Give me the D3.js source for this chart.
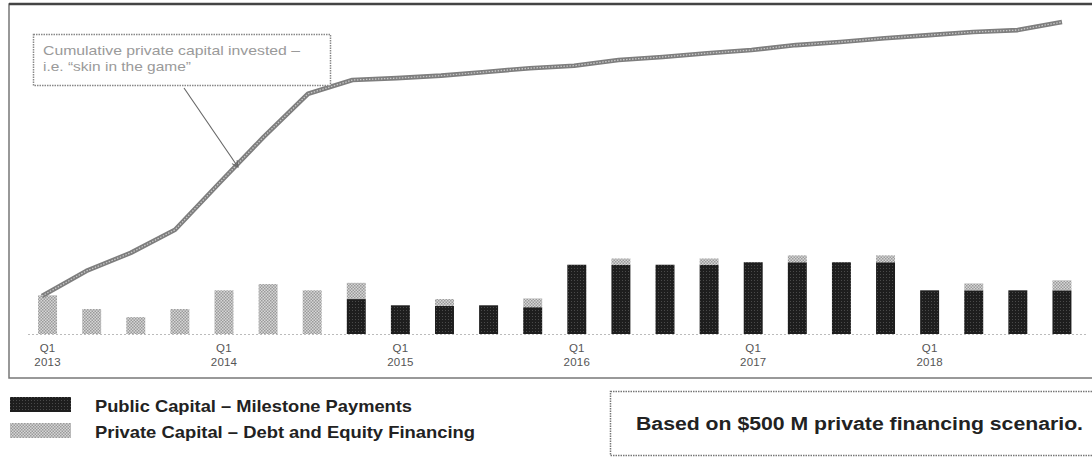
<!DOCTYPE html>
<html>
<head>
<meta charset="utf-8">
<script src="https://cdn.jsdelivr.net/npm/d3@7/dist/d3.min.js"></script>
<style>
  html, body { margin: 0; padding: 0; background: #fff; }
  svg { display: block; font-family: "Liberation Sans", Arial, sans-serif; }
</style>
</head>
<body>
<svg id="chart" width="1092" height="459"></svg>
<script>
// Quarterly capital flows, $ millions
const quarters = [
  "Q1 2013","Q2 2013","Q3 2013","Q4 2013",
  "Q1 2014","Q2 2014","Q3 2014","Q4 2014",
  "Q1 2015","Q2 2015","Q3 2015","Q4 2015",
  "Q1 2016","Q2 2016","Q3 2016","Q4 2016",
  "Q1 2017","Q2 2017","Q3 2017","Q4 2017",
  "Q1 2018","Q2 2018","Q3 2018","Q4 2018"
];
const publicCapital = [
  0, 0, 0, 0,
  0, 0, 0, 56,
  46, 45, 46, 43,
  111, 111, 111, 111,
  115, 115, 115, 115,
  70, 70, 70, 70
];
const privateCapital = [
  62, 40, 27, 40,
  70, 80, 70, 26,
  0, 11, 0, 14,
  0, 10, 0, 10,
  0, 11, 0, 11,
  0, 11, 0, 16
];
const cumulativePrivate = [
  61, 101, 130, 167,
  242, 316, 385, 407,
  410, 414, 420, 426,
  430, 439, 444, 450,
  455, 463, 468, 474,
  479, 484, 487, 500
];
const tickQuarters = ["Q1 2013","Q1 2014","Q1 2015","Q1 2016","Q1 2017","Q1 2018"];
const seriesNames = ["Public Capital \u2013 Milestone Payments", "Private Capital \u2013 Debt and Equity Financing"];
const annotationLines = ["Cumulative private capital invested \u2013", "i.e. \u201cskin in the game\u201d"];
const noteText = "Based on $500 M private financing scenario.";

const svg = d3.select("#chart");
const defs = svg.append("defs");

// halftone-style fills
const darkPat = defs.append("pattern").attr("id", "darkFill")
  .attr("width", 3).attr("height", 3).attr("patternUnits", "userSpaceOnUse");
darkPat.append("rect").attr("width", 3).attr("height", 3).attr("fill", "#1e1e1e");
darkPat.append("rect").attr("x", 1).attr("y", 1).attr("width", 1).attr("height", 1).attr("fill", "#4a4a4a");

const lightPat = defs.append("pattern").attr("id", "lightFill")
  .attr("width", 3).attr("height", 3).attr("patternUnits", "userSpaceOnUse");
lightPat.append("rect").attr("width", 3).attr("height", 3).attr("fill", "#d6d6d6");
lightPat.append("rect").attr("x", 0).attr("y", 0).attr("width", 1.5).attr("height", 1.5).attr("fill", "#9a9a9a");
lightPat.append("rect").attr("x", 1.5).attr("y", 1.5).attr("width", 1.5).attr("height", 1.5).attr("fill", "#9a9a9a");

defs.append("marker").attr("id", "arrowHead")
  .attr("viewBox", "0 0 10 10").attr("refX", 9).attr("refY", 5)
  .attr("markerWidth", 7).attr("markerHeight", 7).attr("orient", "auto")
  .append("path").attr("d", "M1,1 L9,5 L1,9").attr("fill", "none")
  .attr("stroke", "#666").attr("stroke-width", 1.3);

// frame around the plot
svg.append("rect").attr("x", 9).attr("y", 4).attr("width", 1100).attr("height", 374)
  .attr("fill", "none").attr("stroke", "#777").attr("stroke-width", 1.5);
svg.append("line").attr("x1", 9).attr("x2", 1092).attr("y1", 4).attr("y2", 4)
  .attr("stroke", "#444").attr("stroke-width", 2.5);

const baseY = 334;
const x = d3.scaleBand().domain(quarters).range([25.5, 1084]).paddingInner(0.57).paddingOuter(0.285);
const xLine = d3.scalePoint().domain(quarters).range([42, 1062]);
const y = d3.scaleLinear().domain([0, 500]).range([baseY, 22]);

// baseline
svg.append("line").attr("x1", 28).attr("x2", 1086).attr("y1", baseY + 0.5).attr("y2", baseY + 0.5)
  .attr("stroke", "#bbb").attr("stroke-width", 1.2).attr("stroke-dasharray", "2,2");

// stacked bars: public at the bottom, private on top
const bars = svg.append("g");
quarters.forEach((q, i) => {
  const pub = publicCapital[i], pri = privateCapital[i];
  if (pub > 0) {
    bars.append("rect").attr("x", x(q)).attr("width", x.bandwidth())
      .attr("y", y(pub)).attr("height", y(0) - y(pub)).attr("fill", "url(#darkFill)");
  }
  if (pri > 0) {
    bars.append("rect").attr("x", x(q)).attr("width", x.bandwidth())
      .attr("y", y(pub + pri)).attr("height", y(pub) - y(pub + pri)).attr("fill", "url(#lightFill)");
  }
});

// cumulative private capital line
const line = d3.line().x((d, i) => xLine(quarters[i])).y(d => y(d));
svg.append("path").datum(cumulativePrivate).attr("d", line)
  .attr("fill", "none").attr("stroke", "#7e7e7e").attr("stroke-width", 4.6)
  .attr("stroke-linejoin", "round");
svg.append("path").datum(cumulativePrivate).attr("d", line)
  .attr("fill", "none").attr("stroke", "#c8c8c8").attr("stroke-width", 1.3)
  .attr("stroke-dasharray", "1.5,1.5");

// quarter axis
const axis = d3.axisBottom(x).tickValues(tickQuarters).tickSize(0).tickFormat(d => d);
const ax = svg.append("g").attr("transform", `translate(0,${baseY + 11})`).call(axis);
ax.select(".domain").remove();
ax.selectAll("text").each(function(d) {
  const parts = d.split(" ");
  const t = d3.select(this).text(null).attr("fill", "#555").attr("font-size", 11.5)
    .attr("font-family", "Liberation Sans, Arial, sans-serif").attr("letter-spacing", 0.2);
  t.append("tspan").attr("x", 0).attr("dy", "0.35em").text(parts[0]);
  t.append("tspan").attr("x", 0).attr("dy", "1.2em").text(parts[1]);
});

// annotation callout
svg.append("rect").attr("x", 33.5).attr("y", 34.5).attr("width", 297).attr("height", 51)
  .attr("fill", "#fff").attr("stroke", "#888").attr("stroke-width", 1.5).attr("stroke-dasharray", "1.5,1");
const annWidths = [257, 148];
svg.append("g").selectAll("text").data(annotationLines).join("text")
  .attr("x", 43).attr("y", (d, i) => 55 + i * 16).attr("font-size", 13).attr("fill", "#9a9a9a")
  .attr("textLength", (d, i) => annWidths[i]).attr("lengthAdjust", "spacingAndGlyphs")
  .text(d => d);
svg.append("line").attr("x1", 184).attr("y1", 88).attr("x2", 238).attr("y2", 167)
  .attr("stroke", "#666").attr("stroke-width", 1.1).attr("marker-end", "url(#arrowHead)");

// legend
const legend = svg.append("g");
const fills = ["url(#darkFill)", "url(#lightFill)"];
const legendWidths = [317, 380];
seriesNames.forEach((name, i) => {
  legend.append("rect").attr("x", 10).attr("y", 397 + i * 26).attr("width", 61).attr("height", 15)
    .attr("fill", fills[i]);
  legend.append("text").attr("x", 95).attr("y", 412 + i * 26).attr("font-size", 16.5)
    .attr("font-weight", "bold").attr("fill", "#222")
    .attr("textLength", legendWidths[i]).attr("lengthAdjust", "spacingAndGlyphs").text(name);
});

// scenario note
svg.append("rect").attr("x", 610.5).attr("y", 391.5).attr("width", 500).attr("height", 64)
  .attr("fill", "#fff").attr("stroke", "#777").attr("stroke-width", 1.5).attr("stroke-dasharray", "1.5,1");
svg.append("text").attr("x", 636).attr("y", 430).attr("font-size", 17.5).attr("font-weight", "bold")
  .attr("fill", "#222").attr("textLength", 447).attr("lengthAdjust", "spacingAndGlyphs").text(noteText);
</script>
</body>
</html>
